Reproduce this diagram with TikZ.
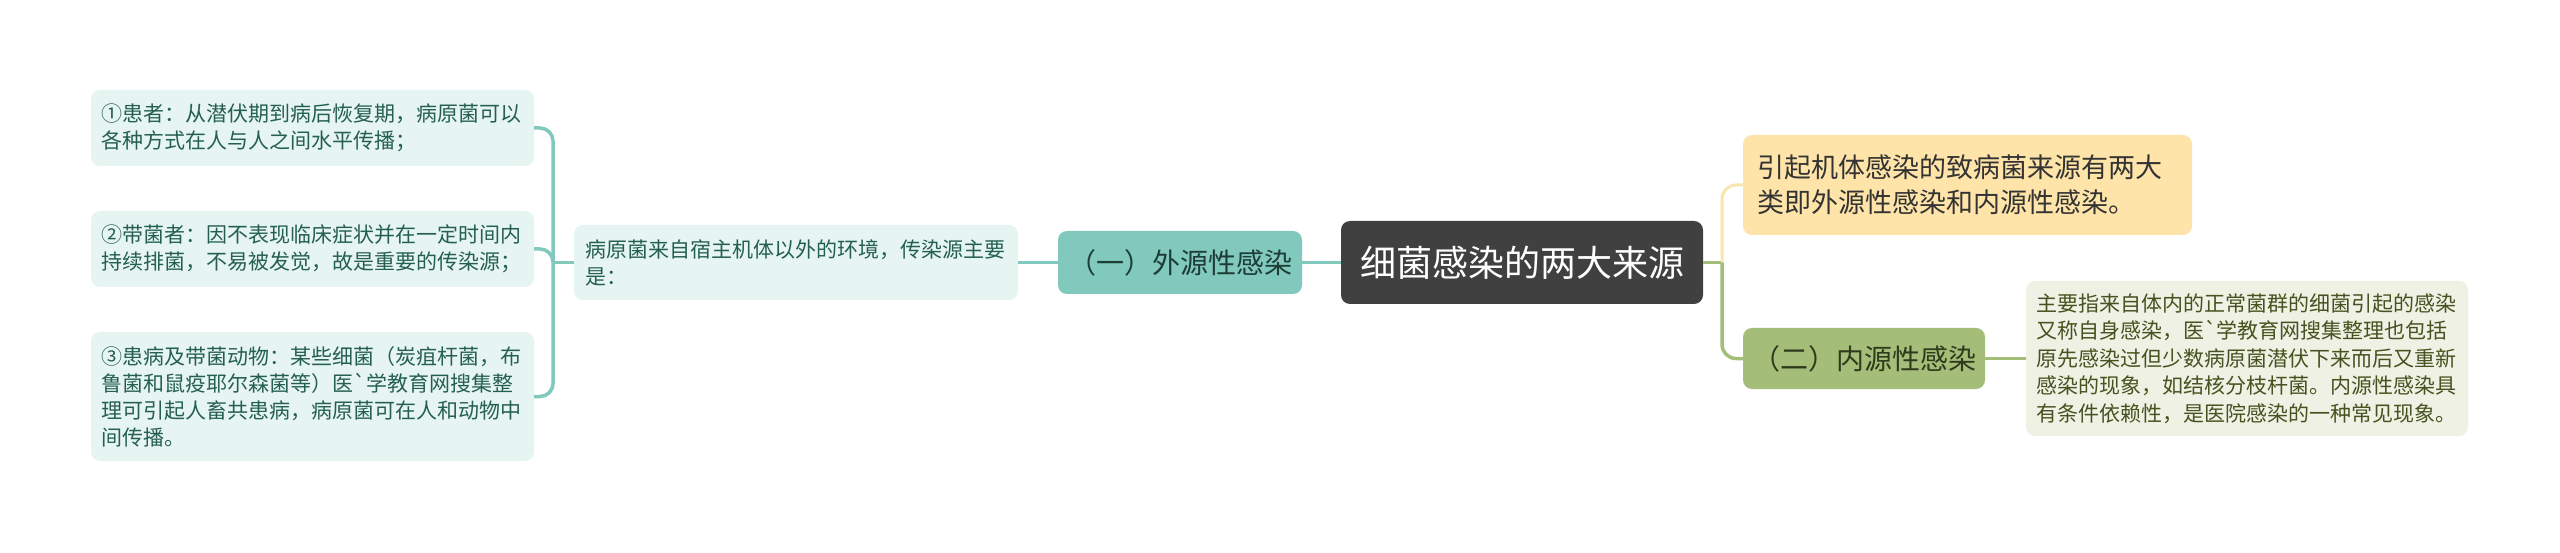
\documentclass[tikz,border=0pt]{standalone}
\usepackage{fontspec}
\newfontfamily\cjk{Noto Sans CJK SC}
\definecolor{tealline}{HTML}{80C9BC}
\definecolor{palefill}{HTML}{E6F5F1}
\definecolor{paletext}{HTML}{255F53}
\definecolor{tealfill}{HTML}{80C9BC}
\definecolor{tealtext}{HTML}{1E3D36}
\definecolor{rootfill}{HTML}{404040}
\definecolor{yelfill}{HTML}{FEE4A8}
\definecolor{yelline}{HTML}{F9E5AE}
\definecolor{olivefill}{HTML}{A4BD78}
\definecolor{olivetext}{HTML}{2E3A1B}
\definecolor{olivepale}{HTML}{EEF1E4}
\definecolor{olivedark}{HTML}{46521F}
\tikzset{
  base/.style={rounded corners=9pt, inner sep=0pt, align=left},
  leaf/.style={base, fill=palefill, text=paletext, text width=422pt,
    font={\cjk\fontsize{21}{27}\selectfont}},
  sub/.style={base, fill=tealfill, text=tealtext, align=center,
    font={\cjk\fontsize{28}{34}\selectfont}},
  rootbox/.style={base, fill=rootfill, text=white, align=center,
    font={\cjk\fontsize{36}{42}\selectfont}},
  yelbox/.style={base, fill=yelfill, text=black!80, text width=421pt,
    font={\cjk\fontsize{27}{35}\selectfont}},
  olivebox/.style={base, fill=olivefill, text=olivetext, align=center,
    font={\cjk\fontsize{28}{34}\selectfont}},
  oleaf/.style={base, fill=olivepale, text=olivedark, text width=422pt,
    font={\cjk\fontsize{21}{27.5}\selectfont}},
  tconn/.style={draw=tealline, line width=3.5pt, rounded corners=13pt},
  oconn/.style={draw=olivefill, line width=3.5pt, rounded corners=14pt},
  yconn/.style={draw=yelline, line width=3pt, rounded corners=14pt},
}
\begin{document}
\begin{tikzpicture}[x=1pt,y=-1pt]
\useasboundingbox[fill=white] (0,0) rectangle (2560,553);
% left leaves
\node[leaf, minimum width=443pt, minimum height=76pt] (b1) at (312.5,128)
  {①患者：从潜伏期到病后恢复期，病原菌可以\\各种方式在人与人之间水平传播；};
\node[leaf, minimum width=443pt, minimum height=76pt] (b2) at (312.5,249)
  {②带菌者：因不表现临床症状并在一定时间内\\持续排菌，不易被发觉，故是重要的传染源；};
\node[leaf, minimum width=443pt, minimum height=129pt] (b3) at (312.5,396.5)
  {③患病及带菌动物：某些细菌（炭疽杆菌，布\\鲁菌和鼠疫耶尔森菌等）医\char"60 学教育网搜集整\\理可引起人畜共患病，病原菌可在人和动物中\\间传播。};
\node[leaf, minimum width=444pt, minimum height=75pt] (p) at (796,262.5)
  {病原菌来自宿主机体以外的环境，传染源主要\\是：};
\node[sub, minimum width=244pt, minimum height=63pt] (w) at (1180,262.5)
  {（一）外源性感染};
\node[rootbox, minimum width=362pt, minimum height=83pt] (c) at (1522,262.5)
  {细菌感染的两大来源};
\node[yelbox, minimum width=449pt, minimum height=100pt] (y) at (1967.5,185)
  {引起机体感染的致病菌来源有两大\\类即外源性感染和内源性感染。};
\node[olivebox, minimum width=242pt, minimum height=61pt] (n) at (1864,358.5)
  {（二）内源性感染};
\node[oleaf, minimum width=442pt, minimum height=155pt] (r) at (2247,358.5)
  {主要指来自体内的正常菌群的细菌引起的感染\\又称自身感染，医\char"60 学教育网搜集整理也包括\\原先感染过但少数病原菌潜伏下来而后又重新\\感染的现象，如结核分枝杆菌。内源性感染具\\有条件依赖性，是医院感染的一种常见现象。};
% junctions
\coordinate (jl) at (553,262.5);
\coordinate (jr) at (1722,262.5);
% connectors
\begin{scope}[on background layer/.style={}]
\draw[tconn] (c.west) -- (w.west -| w.east);
\draw[tconn] (w.west) -- (p.east);
\draw[tconn] (p.west) -- (jl);
\draw[tconn] (jl) |- (b1.east);
\draw[tconn] (jl) |- (b2.east);
\draw[tconn] (jl) |- (b3.east);
\draw[oconn] (c.east) -- (jr);
\draw[yconn] (jr) |- (y.west);
\draw[oconn] (jr) |- (n.west);
\draw[oconn] (n.east) -- (r.west);
\end{scope}
\end{tikzpicture}
\end{document}
